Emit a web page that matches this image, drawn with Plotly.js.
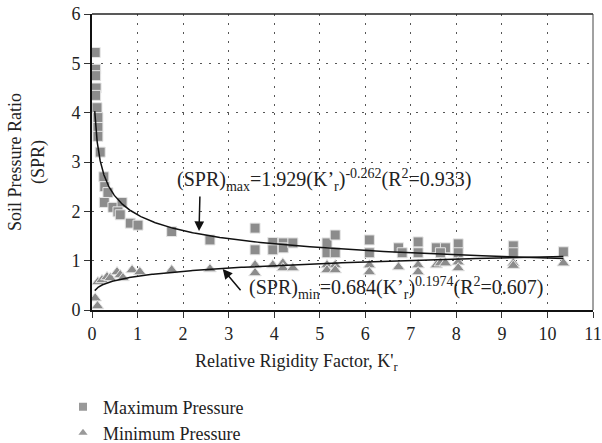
<!DOCTYPE html>
<html>
<head>
<meta charset="utf-8">
<script src="https://cdn.plot.ly/plotly-3.0.1.min.js"></script>
<style>html,body{margin:0;padding:0;background:#fff;}#chart{width:602px;height:443px;}</style>
</head>
<body>
<div id="chart"></div>
<script>
// Maximum pressure ratio points
const maxX = [0.07,0.08,0.08,0.09,0.08,0.11,0.13,0.13,0.13,0.18,0.26,0.28,0.35,0.27,0.46,0.66,0.57,0.62,0.84,1.01,1.75,2.59,3.58,3.58,3.97,3.97,4.2,4.2,4.41,5.16,5.16,5.34,5.34,6.09,6.09,6.73,6.81,7.16,7.16,7.56,7.76,7.65,8.04,8.04,9.25,9.25,10.35];
const maxY = [5.22,4.88,4.75,4.5,4.35,4.1,3.9,3.7,3.52,3.2,2.7,2.5,2.38,2.18,2.08,2.18,1.99,1.93,1.76,1.72,1.59,1.42,1.66,1.22,1.37,1.22,1.36,1.26,1.36,1.36,1.16,1.52,1.16,1.42,1.16,1.26,1.16,1.38,1.16,1.26,1.26,1.16,1.34,1.16,1.3,1.16,1.18];
// Minimum pressure ratio points
const minX = [0.07,0.12,0.13,0.22,0.33,0.4,0.55,0.62,0.68,0.88,1.05,1.75,2.59,3.58,3.58,3.97,4.19,4.19,4.41,5.16,5.16,5.34,5.34,6.09,6.09,6.73,7.16,7.16,7.56,7.65,7.76,8.04,8.04,9.25,9.25,10.35];
const minY = [0.24,0.08,0.57,0.61,0.67,0.65,0.77,0.71,0.65,0.81,0.77,0.81,0.83,0.91,0.75,0.91,0.95,0.85,0.85,0.91,0.81,0.91,0.81,0.91,0.77,0.87,0.91,0.77,0.91,0.95,0.95,0.97,0.85,0.95,0.9,0.95];
// Fitted power-law trend lines shown on the chart
const fitMax = {a: 1.929, b: -0.262};
const fitMin = {a: 0.684, b: 0.1974};
const fitRange = [0.06, 10.35];
const xTicks = [0,1,2,3,4,5,6,7,8,9,10,11];
const yTicks = [0,1,2,3,4,5,6];

const N = 300;
const fx = [];
for (let i = 0; i <= N; i++) {
  const t = i / N;
  fx.push(Math.exp(Math.log(fitRange[0]) + t * (Math.log(fitRange[1]) - Math.log(fitRange[0]))));
}
const fMaxY = fx.map(x => fitMax.a * Math.pow(x, fitMax.b));
const fMinY = fx.map(x => fitMin.a * Math.pow(x, fitMin.b));

const serif = "'Liberation Serif', 'DejaVu Serif', serif";
const gray = '#8c8c8c';
const outline = {color: '#e6e6e6', width: 1};
const txt = {family: serif, size: 18, color: '#222'};
const eqTxt = {family: serif, size: 20, color: '#222'};

const traces = [
  {x: maxX, y: maxY, type: 'scatter', mode: 'markers', showlegend: false,
   marker: {symbol: 'square', size: 10, color: gray, line: outline}},
  {x: minX, y: minY, type: 'scatter', mode: 'markers', showlegend: false,
   marker: {symbol: 'triangle-up', size: 11, color: gray, line: outline}},
  {x: fx, y: fMaxY, type: 'scatter', mode: 'lines', showlegend: false,
   line: {color: '#111', width: 1.5}},
  {x: fx, y: fMinY, type: 'scatter', mode: 'lines', showlegend: false,
   line: {color: '#111', width: 1.5}},
  {x: [null], y: [null], type: 'scatter', mode: 'markers', name: 'Maximum Pressure', legend: 'legend',
   marker: {symbol: 'square', size: 8, color: '#999'}},
  {x: [null], y: [null], type: 'scatter', mode: 'markers', name: 'Minimum Pressure', legend: 'legend2',
   marker: {symbol: 'triangle-up', size: 8, color: '#999'}}
];

const legendBase = {font: txt, bgcolor: 'rgba(0,0,0,0)', xanchor: 'left', yanchor: 'middle'};

const layout = {
  width: 602, height: 443,
  margin: {l: 92, r: 9, t: 14, b: 133, autoexpand: false},
  paper_bgcolor: '#fff', plot_bgcolor: '#fff',
  font: txt,
  xaxis: {
    range: [0, 11], tickvals: xTicks, ticktext: xTicks.map(String),
    showgrid: true, gridcolor: '#555', griddash: '2px,7px', gridwidth: 1,
    zeroline: false, showline: true, linecolor: '#111', linewidth: 2,
    ticks: 'outside', ticklen: 6, tickcolor: '#333', tickwidth: 1,
    tickfont: txt
  },
  yaxis: {
    range: [0, 6], tickvals: yTicks, ticktext: yTicks.map(String),
    showgrid: true, gridcolor: '#555', griddash: '2px,7px', gridwidth: 1,
    zeroline: false, showline: true, linecolor: '#111', linewidth: 2,
    ticks: 'outside', ticklen: 6, tickcolor: '#333', tickwidth: 1,
    tickfont: txt,
    title: {text: 'Soil Pressure Ratio<br>(SPR)', font: txt, standoff: 22}
  },
  shapes: [
    {type: 'line', xref: 'paper', yref: 'paper', x0: 0, x1: 1, y0: 1, y1: 1, line: {color: '#222', width: 1.5}},
    {type: 'line', xref: 'paper', yref: 'paper', x0: 1, x1: 1, y0: 0, y1: 1, line: {color: '#444', width: 1}}
  ],
  annotations: [
    {xref: 'paper', yref: 'paper', x: (297 - 92) / 501, y: (310 - 362) / 296, xanchor: 'center', yanchor: 'middle',
     text: "Relative Rigidity Factor, K'<sub>r</sub>", showarrow: false, font: txt},
    {x: 1.82, y: 2.63, xanchor: 'left', yanchor: 'middle', showarrow: false,
     text: '(SPR)<sub>max</sub>=1.929(K’<sub>r</sub>)<sup>-0.262</sup>(R<sup>2</sup>=0.933)',
     font: eqTxt},
    {x: 3.41, y: 0.44, xanchor: 'left', yanchor: 'middle', showarrow: false,
     text: '(SPR)<sub>min</sub>=0.684(K’<sub>r</sub>)<sup>0.1974</sup>(R<sup>2</sup>=0.607)',
     font: eqTxt},
    {x: 2.35, y: 1.6, ax: 2.37, ay: 2.33, axref: 'x', ayref: 'y', text: '', showarrow: true,
     arrowhead: 2, arrowsize: 1.3, arrowwidth: 1.5, arrowcolor: '#111'},
    {x: 2.87, y: 0.83, ax: 3.29, ay: 0.37, axref: 'x', ayref: 'y', text: '', showarrow: true,
     arrowhead: 2, arrowsize: 1.3, arrowwidth: 1.5, arrowcolor: '#111'}
  ],
  legend: Object.assign({x: (63 - 92) / 501, y: (310 - 407) / 296}, legendBase),
  legend2: Object.assign({x: (63 - 92) / 501, y: (310 - 433) / 296}, legendBase)
};

Plotly.newPlot('chart', traces, layout, {displayModeBar: false, staticPlot: true});
</script>
</body>
</html>
